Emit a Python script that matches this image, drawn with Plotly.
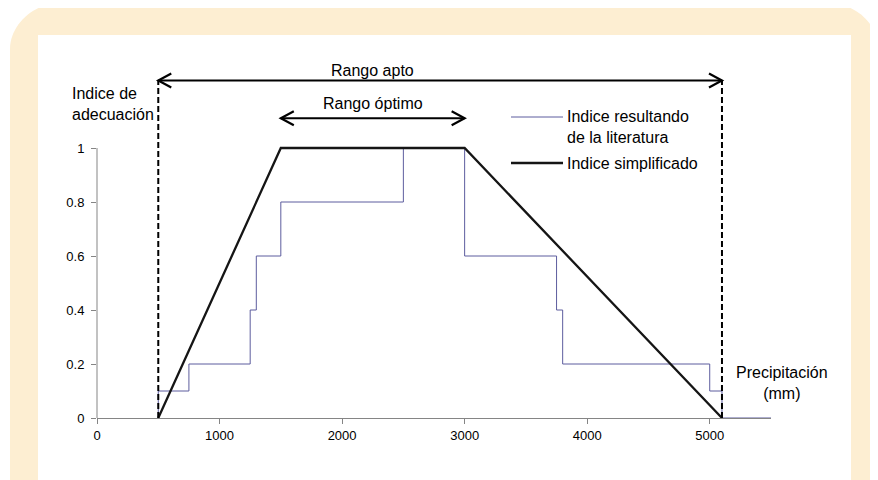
import plotly.graph_objects as go

# ---- data ----
lit_x = [500, 500, 750, 1250, 1300, 1500, 2500, 3000, 3750, 3800, 5000, 5100, 5500]
lit_y = [0, 0.1, 0.2, 0.4, 0.6, 0.8, 1.0, 0.6, 0.4, 0.2, 0.1, 0, 0]
simp_x = [500, 1500, 3000, 5100]
simp_y = [0, 1, 1, 0]
rango_apto = [500, 5100]
rango_optimo = [1500, 3000]
x_ticks = [0, 1000, 2000, 3000, 4000, 5000]
y_ticks = [0, 0.2, 0.4, 0.6, 0.8, 1]
y_tick_text = ["0", "0.2", "0.4", "0.6", "0.8", "1"]

# ---- layout geometry (page pixels; page has an 8px body offset) ----
OFF = 8
W, H = 878 - OFF, 480 - OFF
ML, MR, MT, MB = 97 - OFF, 107, 62 - OFF, 62
PW, PH = W - ML - MR, H - MT - MB
X_MAX = 5500
Y_MAX = PH / 270.0
Y_APTO = 1.25
Y_OPT = 1.11

def px(x):
    return (x - OFF - ML) / PW

def py(y):
    return (H - MB - (y - OFF)) / PH

FONT = "Liberation Sans, Arial, sans-serif"
GRAY = "#858585"
BEIGE = "#FDEED2"
BLUE = "#5d5d9e"

fig = go.Figure()
fig.add_trace(go.Scatter(x=lit_x, y=lit_y, mode="lines", line=dict(color=BLUE, width=1, shape="hv"),
                         showlegend=False, hoverinfo="skip"))
fig.add_trace(go.Scatter(x=simp_x, y=simp_y, mode="lines", line=dict(color="#151515", width=2.3),
                         showlegend=False, hoverinfo="skip"))

shapes = []
# beige rounded frame
x0, x1, y0t, y1b, r = px(10), px(879), py(4), py(520), 45
rx, ry = r / PW, r / PH
k = 0.45
path = (f"M {x0},{y1b} L {x0},{y0t - ry} "
        f"C {x0},{y0t - ry*k} {x0 + rx*(1-k)},{y0t} {x0 + rx},{y0t} "
        f"L {x1 - rx},{y0t} "
        f"C {x1 - rx*(1-k)},{y0t} {x1},{y0t - ry*k} {x1},{y0t - ry} "
        f"L {x1},{y1b} Z")
shapes.append(dict(type="path", xref="paper", yref="paper", path=path, fillcolor=BEIGE,
                   line=dict(width=0), layer="below"))
shapes.append(dict(type="rect", xref="paper", yref="paper", x0=px(38), x1=px(851), y0=py(35), y1=py(520),
                   fillcolor="white", line=dict(width=0), layer="below"))
# y axis line (only 0..1)
shapes.append(dict(type="line", xref="paper", yref="y", x0=0, x1=0, y0=0, y1=1,
                   line=dict(color=GRAY, width=1)))
# dashed range limits
for xv in rango_apto:
    shapes.append(dict(type="line", xref="x", yref="y", x0=xv, x1=xv, y0=0, y1=Y_APTO,
                       line=dict(color="black", width=2, dash="6px,3px")))

# double-headed arrows
AH_X = 13 * X_MAX / PW
AH_Y = 7 / 270.0
for (a, b), yv in [(rango_apto, Y_APTO), (rango_optimo, Y_OPT)]:
    shapes.append(dict(type="line", xref="x", yref="y", x0=a, x1=b, y0=yv, y1=yv,
                       line=dict(color="black", width=2)))
    for tip, d in [(a, 1), (b, -1)]:
        p = (f"M {tip + d*AH_X},{yv + AH_Y} L {tip},{yv} L {tip + d*AH_X},{yv - AH_Y}")
        shapes.append(dict(type="path", xref="x", yref="y", path=p,
                           line=dict(color="black", width=2.2)))

# manual legend samples
shapes.append(dict(type="line", xref="paper", yref="paper", x0=px(511), x1=px(563), y0=py(117), y1=py(117),
                   line=dict(color=BLUE, width=1)))
shapes.append(dict(type="line", xref="paper", yref="paper", x0=px(511), x1=px(563), y0=py(163), y1=py(163),
                   line=dict(color="#151515", width=2.5)))

tf = dict(family=FONT, size=16, color="black")
annotations = [
    dict(x=2250, y=py(70), xref="x", yref="paper", text="Rango apto", showarrow=False, font=tf,
         xanchor="center", yanchor="middle"),
    dict(x=2250, y=py(103), xref="x", yref="paper", text="Rango óptimo", showarrow=False, font=tf,
         xanchor="center", yanchor="middle"),
    dict(x=px(70), y=py(104), xref="paper", yref="paper", text="Indice de<br>adecuación", showarrow=False,
         font=tf, xanchor="left", yanchor="middle", align="left"),
    dict(x=px(782), y=py(383), xref="paper", yref="paper", text="Precipitación<br>(mm)", showarrow=False,
         font=tf, xanchor="center", yanchor="middle", align="center"),
    dict(x=px(565), y=py(127), xref="paper", yref="paper", text="Indice resultando<br>de la literatura",
         showarrow=False, font=tf, xanchor="left", yanchor="middle", align="left"),
    dict(x=px(565), y=py(163), xref="paper", yref="paper", text="Indice simplificado",
         showarrow=False, font=tf, xanchor="left", yanchor="middle", align="left"),
]

fig.update_layout(
    width=W, height=H,
    margin=dict(l=ML, r=MR, t=MT, b=MB),
    paper_bgcolor="white", plot_bgcolor="rgba(0,0,0,0)",
    showlegend=False,
    shapes=shapes, annotations=annotations,
    font=dict(family=FONT, size=13, color="black"),
    xaxis=dict(range=[0, X_MAX], tickvals=x_ticks, showgrid=False, zeroline=False, showline=True,
               linecolor=GRAY, linewidth=1, ticks="outside", ticklen=5, tickcolor=GRAY,
               tickfont=dict(family=FONT, size=13), fixedrange=True),
    yaxis=dict(range=[0, Y_MAX], tickvals=y_ticks, ticktext=y_tick_text, showgrid=False, zeroline=False,
               showline=False, ticks="outside", ticklen=5, tickcolor=GRAY,
               tickfont=dict(family=FONT, size=13), ticklabelstandoff=4, fixedrange=True),
)

fig.write_html("out.html")
